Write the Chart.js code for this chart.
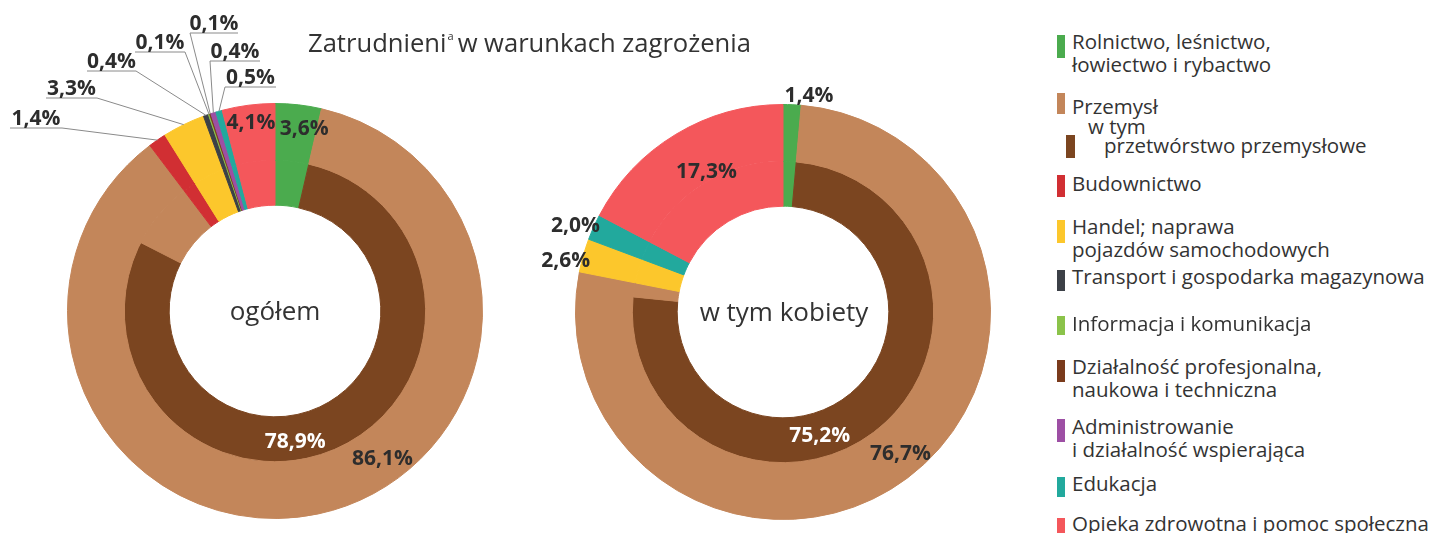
<!DOCTYPE html>
<html lang="pl">
<head>
<meta charset="utf-8">
<title>Zatrudnieni w warunkach zagrożenia</title>
<script src="https://cdn.jsdelivr.net/npm/chart.js"></script>
<style>
  html, body { margin: 0; padding: 0; background: #fff; }
  body { width: 1437px; height: 533px; position: relative; overflow: hidden; font-family: 'Open Sans', sans-serif; color: #333; }
  canvas { position: absolute; top: 0; }
  #title { position: absolute; left: 308px; top: 26px; font-size: 25.6px; line-height: 34px; white-space: nowrap; }
  #title sup { font-size: 11px; vertical-align: 12px; line-height: 0; margin: 0 4px 0 1px; }
  .center { position: absolute; font-size: 26px; line-height: 36px; white-space: nowrap; transform: translateX(-50%); }
  .leg { position: absolute; font-size: 20.5px; line-height: 23px; white-space: nowrap; }
  .sw { position: absolute; width: 8px; }
</style>
</head>
<body>
<canvas id="ogolemChart" width="520" height="533" style="left:0"></canvas>
<canvas id="kobietyChart" width="520" height="533" style="left:520px"></canvas>

<div id="title">Zatrudnieni<sup>a</sup>w warunkach zagrożenia</div>
<div class="center" style="left:275px; top:292px">ogółem</div>
<div class="center" style="left:784px; top:293px">w tym kobiety</div>

<!-- legend -->
<div class="sw" style="left:1057px; top:35px; height:23px; background:#4bab4e"></div>
<div class="leg" style="left:1072px; top:30px">Rolnictwo, leśnictwo,<br>łowiectwo i rybactwo</div>
<div class="sw" style="left:1057px; top:93px; height:21px; background:#c3865a"></div>
<div class="leg" style="left:1072px; top:95px">Przemysł</div>
<div class="leg" style="left:1088px; top:115px">w tym</div>
<div class="sw" style="left:1066px; top:135px; height:23px; width:9px; background:#7b4520"></div>
<div class="leg" style="left:1104px; top:134px">przetwórstwo przemysłowe</div>
<div class="sw" style="left:1057px; top:175px; height:22px; background:#d12f33"></div>
<div class="leg" style="left:1072px; top:172px">Budownictwo</div>
<div class="sw" style="left:1057px; top:220px; height:23px; background:#fcc72c"></div>
<div class="leg" style="left:1072px; top:215px">Handel; naprawa<br>pojazdów samochodowych</div>
<div class="sw" style="left:1057px; top:270px; height:21px; background:#3c4047"></div>
<div class="leg" style="left:1072px; top:265px">Transport i gospodarka magazynowa</div>
<div class="sw" style="left:1057px; top:316px; height:19px; background:#8bc34a"></div>
<div class="leg" style="left:1072px; top:312px">Informacja i komunikacja</div>
<div class="sw" style="left:1057px; top:360px; height:22px; background:#7a3b1c"></div>
<div class="leg" style="left:1072px; top:355px">Działalność profesjonalna,<br>naukowa i techniczna</div>
<div class="sw" style="left:1057px; top:419px; height:23px; background:#9d4fa4"></div>
<div class="leg" style="left:1072px; top:415px">Administrowanie<br>i działalność wspierająca</div>
<div class="sw" style="left:1057px; top:477px; height:20px; background:#22a99d"></div>
<div class="leg" style="left:1072px; top:472px">Edukacja</div>
<div class="sw" style="left:1057px; top:518px; height:20px; background:#f4575b"></div>
<div class="leg" style="left:1072px; top:512px">Opieka zdrowotna i pomoc społeczna</div>

<script>
// sectors, in the order they run clockwise from 12 o'clock
const categories = [
  'Rolnictwo, leśnictwo, łowiectwo i rybactwo',
  'Przemysł',
  'Budownictwo',
  'Handel; naprawa pojazdów samochodowych',
  'Transport i gospodarka magazynowa',
  'Informacja i komunikacja',
  'Działalność profesjonalna, naukowa i techniczna',
  'Administrowanie i działalność wspierająca',
  'Edukacja',
  'Opieka zdrowotna i pomoc społeczna'
];
const ogolem  = [3.6, 86.1, 1.4, 3.3, 0.4, 0.1, 0.1, 0.4, 0.5, 4.1];
const kobiety = [1.4, 76.7, null, 2.6, null, null, null, null, 2.0, 17.3];
// share of "przetwórstwo przemysłowe" (inner brown ring)
const przetworstwoOgolem = 78.9;
const przetworstwoKobiety = 75.2;

const sectorColors = ['#4bab4e', '#c3865a', '#d12f33', '#fcc72c', '#3c4047', '#8bc34a', '#7a3b1c', '#9d4fa4', '#22a99d', '#f4575b'];
const manufacturingColor = '#7b4520';

const fmt = v => v.toFixed(1).replace('.', ',') + '%';

// outer ring = sectors; inner ring = same sectors with Przemysł split into przetwórstwo + the rest
function rings(values, przetw) {
  const outer = { labels: [], data: [], colors: [] };
  const inner = { data: [], colors: [] };
  values.forEach((v, i) => {
    if (v == null) return;
    outer.labels.push(categories[i]);
    outer.data.push(v);
    outer.colors.push(sectorColors[i]);
    if (i === 1) {
      inner.data.push(przetw, v - przetw);
      inner.colors.push(manufacturingColor, sectorColors[i]);
    } else {
      inner.data.push(v);
      inner.colors.push(sectorColors[i]);
    }
  });
  return [outer, inner];
}

// element index of a category in a ring ('p' = przetwórstwo in the inner ring)
function elementIndex(values, ds, cat) {
  if (cat === 'p') return 1;
  let n = 0;
  for (let i = 0; i < cat; i++) if (values[i] != null) n++;
  if (ds === 1 && cat > 1) n++;
  return n;
}

const sliceLabels = {
  id: 'sliceLabels',
  afterDatasetsDraw(chart, args, opts) {
    const ctx = chart.ctx;
    ctx.save();
    ctx.font = 'bold 21px "Open Sans"';
    ctx.textAlign = 'center';
    ctx.textBaseline = 'alphabetic';
    opts.items.forEach(it => {
      const el = chart.getDatasetMeta(it.ds).data[elementIndex(opts.values, it.ds, it.cat)];
      const text = fmt(it.cat === 'p' ? opts.przetw : opts.values[it.cat]);
      ctx.fillStyle = it.color || '#2d2d2d';
      if (it.line) {
        const [x1, x2, uy] = it.line;
        const a = (el.startAngle + el.endAngle) / 2;
        const px = el.x + Math.cos(a) * el.outerRadius;
        const py = el.y + Math.sin(a) * el.outerRadius;
        ctx.strokeStyle = '#8a8a8a';
        ctx.lineWidth = 1;
        ctx.beginPath();
        ctx.moveTo(px, py);
        if (it.side === 'left') { ctx.lineTo(x1, uy); ctx.lineTo(x2, uy); }
        else { ctx.lineTo(x2, uy); ctx.lineTo(x1, uy); }
        ctx.stroke();
        ctx.fillText(text, (x1 + x2) / 2, uy - 3);
      } else {
        const p = el.tooltipPosition(true);
        ctx.fillText(text, p.x + it.dx, p.y + it.dy + 7);
      }
    });
    ctx.restore();
  }
};

function makeChart(id, values, przetw, padding, items) {
  const [outer, inner] = rings(values, przetw);
  return new Chart(document.getElementById(id), {
    type: 'doughnut',
    data: {
      labels: outer.labels,
      datasets: [
        { data: outer.data, backgroundColor: outer.colors, borderColor: outer.colors, borderWidth: 1, weight: 57 },
        { data: inner.data, backgroundColor: inner.colors, borderColor: inner.colors, borderWidth: 1, weight: 45 }
      ]
    },
    options: {
      responsive: false,
      animation: false,
      cutout: '51%',
      layout: { padding },
      plugins: {
        legend: { display: false },
        tooltip: { enabled: false },
        sliceLabels: { values, przetw, items }
      }
    },
    plugins: [sliceLabels]
  });
}

makeChart('ogolemChart', ogolem, przetworstwoOgolem,
  { left: 67, right: 37, top: 103, bottom: 14 },
  [
    { ds: 0, cat: 0, dx: 9, dy: -5 },
    { ds: 0, cat: 9, dx: -1, dy: -11 },
    { ds: 0, cat: 1, dx: 70, dy: -28 },
    { ds: 1, cat: 'p', dx: -34, dy: 14, color: '#ffffff' },
    { ds: 0, cat: 2, line: [10, 62, 128], side: 'right' },
    { ds: 0, cat: 3, line: [46, 97, 98], side: 'right' },
    { ds: 0, cat: 4, line: [87, 136, 71], side: 'right' },
    { ds: 0, cat: 5, line: [135, 185, 52], side: 'right' },
    { ds: 0, cat: 6, line: [190, 238, 33], side: 'left' },
    { ds: 0, cat: 7, line: [210, 260, 61], side: 'left' },
    { ds: 0, cat: 8, line: [225, 276, 87], side: 'left' }
  ]);

makeChart('kobietyChart', kobiety, przetworstwoKobiety,
  { left: 55, right: 49, top: 104, bottom: 13 },
  [
    { ds: 0, cat: 0, dx: 18, dy: -38 },
    { ds: 0, cat: 9, dx: 16, dy: 12 },
    { ds: 0, cat: 8, dx: -44, dy: -14 },
    { ds: 0, cat: 3, dx: -45, dy: -3 },
    { ds: 0, cat: 1, dx: 10, dy: -2 },
    { ds: 1, cat: 'p', dx: -45, dy: 24, color: '#ffffff' }
  ]);
</script>
</body>
</html>
